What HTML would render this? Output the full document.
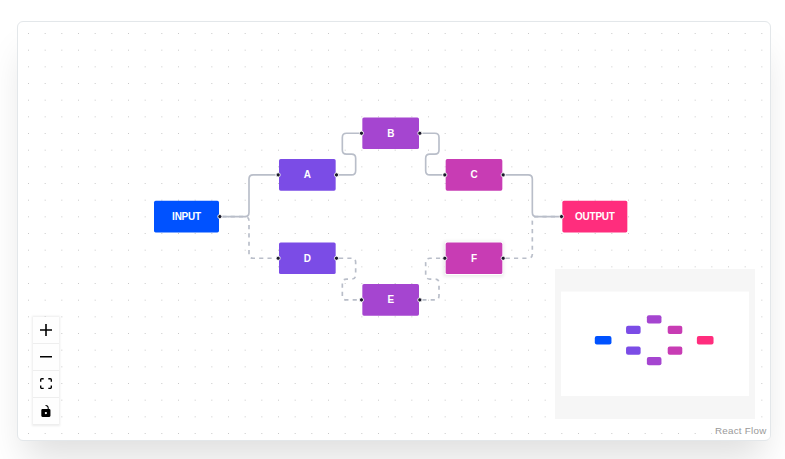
<!DOCTYPE html>
<html><head><meta charset="utf-8">
<style>
html,body{margin:0;padding:0;background:#fff;width:785px;height:459px;overflow:hidden;font-family:"Liberation Sans",sans-serif}
.card{position:absolute;left:17px;top:21px;width:754px;height:420px;box-sizing:border-box;border:1px solid #e3e7ea;border-radius:6px;background:#fff;box-shadow:0 25px 35px -8px rgba(0,0,0,.13);overflow:hidden}
.bg{position:absolute;left:0;top:0;width:100%;height:100%}
.vp{position:absolute;left:0;top:0;transform-origin:0 0;transform:translate(136px,95.4px) scale(0.833333)}
.edges{position:absolute;left:0;top:0;overflow:visible}
.e{fill:none;stroke:#b9bec9;stroke-width:2}
.anim{stroke-dasharray:5}
.node{position:absolute;height:38px;box-sizing:border-box;border-radius:2px;color:#fff;font-weight:bold;font-size:12px;letter-spacing:-0.3px;line-height:39px;text-align:center}
.h{position:absolute;top:50%;width:6px;height:6px;box-sizing:border-box;background:#1a192b;border:1px solid #fff;border-radius:100%;transform:translate(-50%,-50%)}
.hl{left:-1px}.hr{left:calc(100% + 1px)}
.controls{position:absolute;left:15px;bottom:15px;box-shadow:0 0 2px 1px rgba(0,0,0,.08)}
.cb{width:16px;height:16px;padding:5px;background:#fefefe;border-bottom:1px solid #eee;display:flex;align-items:center;justify-content:center}
.cb svg{width:100%;max-width:12px;max-height:12px}
.minimap{position:absolute;left:537px;top:247px;width:200px;height:150px;background:#fff}
.attr{position:absolute;right:0.5px;bottom:1px;font-size:9.8px;letter-spacing:0.25px;line-height:12px;padding:2px 3px;background:rgba(255,255,255,.8);color:#999}
</style></head><body>
<div class="card">
<svg class="bg" width="752" height="418"><defs><pattern id="dots" x="2.1667" y="3.1667" width="16.6667" height="16.6667" patternUnits="userSpaceOnUse"><circle cx="8.3333" cy="8.3333" r="0.5" fill="#b8b8b8"/></pattern></defs><rect width="100%" height="100%" fill="url(#dots)"/></svg>
<div class="vp">
<svg class="edges" width="1" height="1">
<path class="e" d="M82 119L102 119L 109,119 Q 114,119 114,114L 114,74 Q 114,69 119,69L126 69L146 69"/>
<path class="e anim" d="M82 119L102 119L 109,119 Q 114,119 114,124L 114,164 Q 114,169 119,169L126 169L146 169"/>
<path class="e" d="M222 69L 237,69 Q 242,69 242,64L 242,49 Q 242,44 237,44L 231,44 Q 226,44 226,39L 226,24 Q 226,19 231,19L246 19"/>
<path class="e" d="M322 19L 337,19 Q 342,19 342,24L 342,39 Q 342,44 337,44L 331,44 Q 326,44 326,49L 326,64 Q 326,69 331,69L346 69"/>
<path class="e" d="M422 69L442 69L 449,69 Q 454,69 454,74L 454,114 Q 454,119 459,119L466 119L486 119"/>
<path class="e anim" d="M222 169L 237,169 Q 242,169 242,174L 242,189 Q 242,194 237,194L 231,194 Q 226,194 226,199L 226,214 Q 226,219 231,219L246 219"/>
<path class="e anim" d="M322 219L 337,219 Q 342,219 342,214L 342,199 Q 342,194 337,194L 331,194 Q 326,194 326,189L 326,174 Q 326,169 331,169L346 169"/>
<path class="e anim" d="M422 169L442 169L 449,169 Q 454,169 454,164L 454,124 Q 454,119 459,119L466 119L486 119"/>
</svg>
<div class="node" style="left:0px;top:100px;width:78px;background:#0052ff">INPUT<i class="h hr"></i></div>
<div class="node" style="left:150px;top:50px;width:68px;background:#7b4ce6">A<i class="h hl"></i><i class="h hr"></i></div>
<div class="node" style="left:250px;top:0px;width:68px;background:#a545d0">B<i class="h hl"></i><i class="h hr"></i></div>
<div class="node" style="left:350px;top:50px;width:68px;background:#c83cb4">C<i class="h hl"></i><i class="h hr"></i></div>
<div class="node" style="left:150px;top:150px;width:68px;background:#7b4ce6">D<i class="h hl"></i><i class="h hr"></i></div>
<div class="node" style="left:250px;top:200px;width:68px;background:#a545d0">E<i class="h hl"></i><i class="h hr"></i></div>
<div class="node" style="left:350px;top:150px;width:68px;background:#c83cb4;box-shadow:0 0 0 1px #fff,0 1px 4px 2px rgba(0,0,0,.08)">F<i class="h hl"></i><i class="h hr"></i></div>
<div class="node" style="left:490px;top:100px;width:78px;background:#ff2d7d">OUTPUT<i class="h hl"></i></div>
</div>
<div class="controls">
<div class="cb"><svg viewBox="0 0 32 32"><path d="M32 18.133H18.133V32h-4.266V18.133H0v-4.266h13.867V0h4.266v13.867H32z"/></svg></div>
<div class="cb"><svg viewBox="0 0 32 5"><path d="M0 0h32v4.2H0z"/></svg></div>
<div class="cb"><svg viewBox="0 0 32 30"><path d="M3.692 4.63c0-.53.4-.938.939-.938h5.215V0H4.708C2.13 0 0 2.054 0 4.63v5.216h3.692V4.631zM27.354 0h-5.2v3.692h5.17c.53 0 .984.4.984.939v5.215H32V4.631A4.624 4.624 0 0027.354 0zm.954 24.83c0 .532-.4.94-.939.94h-5.215v3.768h5.215c2.577 0 4.631-2.13 4.631-4.707v-5.139h-3.692v5.139zm-23.677.94c-.531 0-.939-.4-.939-.94v-5.138H0v5.139c0 2.577 2.13 4.707 4.708 4.707h5.138V25.77H4.631z"/></svg></div>
<div class="cb"><svg viewBox="0 0 25 32"><path d="M21.333 10.667H19.81V7.619C19.81 3.429 16.38 0 12.19 0c-4.114 1.828-1.37 2.133.305 2.438 1.676.305 4.42 2.59 4.42 5.181v3.048H3.047A3.056 3.056 0 000 13.714v15.238A3.056 3.056 0 003.048 32h18.285a3.056 3.056 0 003.048-3.048V13.714a3.056 3.056 0 00-3.048-3.047zM12.19 24.533a3.056 3.056 0 01-3.047-3.047 3.056 3.056 0 013.047-3.048 3.056 3.056 0 013.048 3.048 3.056 3.056 0 01-3.048 3.047z"/></svg></div>
</div>
<div class="minimap"><svg width="200" height="150"><rect x="39.792" y="67.075" width="16.667" height="8.333" rx="2" fill="#0052ff"/><rect x="71.042" y="56.658" width="14.583" height="8.333" rx="2" fill="#7b4ce6"/><rect x="91.875" y="46.242" width="14.583" height="8.333" rx="2" fill="#a545d0"/><rect x="112.708" y="56.658" width="14.583" height="8.333" rx="2" fill="#c83cb4"/><rect x="71.042" y="77.492" width="14.583" height="8.333" rx="2" fill="#7b4ce6"/><rect x="91.875" y="87.908" width="14.583" height="8.333" rx="2" fill="#a545d0"/><rect x="112.708" y="77.492" width="14.583" height="8.333" rx="2" fill="#c83cb4"/><rect x="141.875" y="67.075" width="16.667" height="8.333" rx="2" fill="#ff2d7d"/><path d="M0 0h200v150H0z M6 22.6H194V127.1H6z" fill="rgba(240,240,240,.6)" fill-rule="evenodd"/></svg></div>
<div class="attr">React Flow</div>
</div>
</body></html>
